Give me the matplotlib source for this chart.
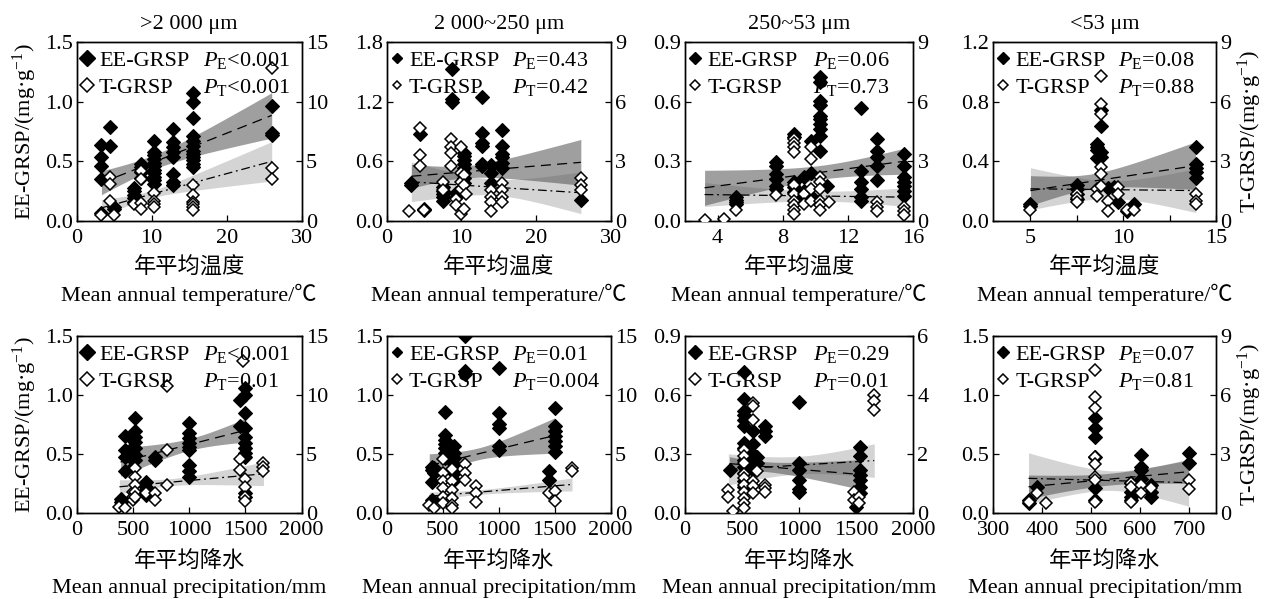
import numpy as np
import matplotlib
matplotlib.use("Agg")
import matplotlib.pyplot as plt
from matplotlib.lines import Line2D
from matplotlib.ticker import MultipleLocator

plt.rcParams['font.family'] = ['Liberation Serif', 'Noto Sans CJK SC']
plt.rcParams['mathtext.fontset'] = 'custom'
plt.rcParams['mathtext.rm'] = 'Liberation Serif'
plt.rcParams['mathtext.it'] = 'Liberation Serif:italic'
plt.rcParams['axes.unicode_minus'] = True

# ---------------- data (x group, values) ----------------
# Panel 1: >2000 um vs temperature
p1_ee_x = [3.3, 4.4, 5.0, 7.6, 8.6, 10.3, 12.8, 15.5, 26.0]
p1_ee_v = [[0.64, 0.54, 0.46, 0.35, 0.07], [0.79, 0.63], [0.12, 0.10],
           [0.28, 0.25, 0.22, 0.19, 0.16], [0.48, 0.45, 0.41, 0.36],
           [0.67, 0.58, 0.55, 0.52, 0.49, 0.46, 0.43, 0.40, 0.37, 0.34, 0.31],
           [0.77, 0.66, 0.62, 0.58, 0.54, 0.39, 0.33, 0.30],
           [1.07, 1.00, 0.86, 0.71, 0.67, 0.63, 0.59, 0.56, 0.54, 0.51, 0.48, 0.45],
           [0.96, 0.74, 0.72]]
p1_t_x = [3.3, 4.4, 5.0, 7.6, 8.6, 10.3, 15.5, 26.0]
p1_t_v = [[0.47], [3.7, 3.1, 1.65], [0.5], [1.45], [4.2, 3.55, 1.5, 1.0],
          [2.35, 1.7, 1.45, 1.2], [3.0, 2.2, 1.6, 1.4, 1.2, 0.95], [12.8, 4.47, 3.55]]

# Panel 2: 2000~250 um vs temperature
p2_ee_x = [3.3, 4.5, 5.0, 7.6, 8.7, 9.3, 10.3, 12.8, 14.0, 15.5, 26.0]
p2_ee_v = [[0.385, 0.36], [0.87], [0.125, 0.11], [0.34, 0.30, 0.27, 0.24, 0.20],
           [1.53, 1.23, 1.20], [0.28, 0.24],
           [0.68, 0.65, 0.61, 0.57, 0.53, 0.48, 0.43, 0.38],
           [1.25, 0.88, 0.78, 0.75, 0.57, 0.55], [0.56, 0.48, 0.38],
           [0.92, 0.75, 0.67, 0.64, 0.58, 0.53], [0.21]]
p2_t_x = [3.0, 4.5, 5.0, 7.6, 8.6, 9.3, 10.0, 10.3, 10.6, 14.0, 15.5, 26.0]
p2_t_v = [[0.5], [4.67, 3.3, 2.78], [0.57], [1.97, 1.55], [4.1, 3.74, 3.4, 2.78],
          [1.13, 0.79], [3.74, 2.43, 1.97, 1.63, 0.37], [2.3, 1.8, 0.62], [1.38],
          [1.55, 1.2, 0.96, 0.49], [1.89, 1.55, 1.2, 0.96], [2.14, 1.8, 1.55]]

# Panel 3: 250~53 um vs temperature
p3_ee_x = [5.1, 7.6, 8.7, 9.3, 9.7, 10.3, 10.7, 12.8, 13.8, 15.4]
p3_ee_v = [[0.12, 0.107, 0.095, 0.083], [0.295, 0.278, 0.237, 0.212, 0.178, 0.162],
           [0.437, 0.42, 0.195, 0.17, 0.145], [0.22, 0.153, 0.12], [0.403, 0.24, 0.128],
           [0.723, 0.70, 0.603, 0.583, 0.528, 0.512, 0.49, 0.462, 0.428, 0.353],
           [0.178], [0.57, 0.253, 0.195, 0.162, 0.12, 0.103],
           [0.412, 0.353, 0.323, 0.278, 0.207],
           [0.337, 0.278, 0.22, 0.195, 0.178, 0.153, 0.128]]
p3_t_x = [3.2, 4.4, 5.1, 7.6, 8.7, 9.3, 9.7, 10.3, 10.8, 13.8, 15.4]
p3_t_v = [[0.03], [0.1], [0.57], [1.32],
          [4.1, 3.9, 3.73, 3.45, 1.83, 1.37, 1.03, 0.78, 0.53, 0.37],
          [1.37, 0.87], [3.7, 3.12, 1.62, 1.03], [2.2, 1.95, 1.62, 1.03, 0.78, 0.53],
          [0.95], [0.95, 0.7, 0.5], [0.7, 0.48, 0.28]]

# Panel 4: <53 um vs temperature
p4_ee_x = [5.0, 7.5, 8.6, 8.8, 9.2, 9.5, 9.7, 10.2, 10.6, 13.9]
p4_ee_v = [[0.116, 0.098], [0.238, 0.216, 0.182, 0.149], [0.516, 0.493, 0.476, 0.42],
           [0.742, 0.638, 0.46, 0.431], [0.222], [0.227], [0.127], [0.067], [0.116],
           [0.498, 0.382, 0.356, 0.327, 0.289]]
p4_t_x = [5.0, 7.5, 8.6, 8.8, 9.2, 9.7, 10.2, 10.6, 13.9]
p4_t_v = [[0.57], [1.37, 1.17, 0.95], [1.62, 1.28], [7.28, 5.9, 5.37, 2.7, 2.37, 1.78],
          [1.03, 0.5], [1.7, 1.37], [0.53], [0.57], [1.37, 1.03, 0.83]]

# Panel 5: >2000 um vs precipitation
p5_ee_x = [390, 430, 500, 520, 620, 700, 1000, 1450, 1500]
p5_ee_v = [[0.113, 0.093], [0.65, 0.53, 0.475, 0.35], [0.617, 0.56, 0.504, 0.447, 0.39],
           [0.80, 0.69, 0.645, 0.60, 0.546, 0.49, 0.447], [0.263, 0.22, 0.19, 0.15],
           [0.475, 0.447], [0.76, 0.675, 0.63, 0.59, 0.56, 0.53, 0.405, 0.35, 0.306],
           [0.957, 0.736],
           [1.056, 1.0, 0.843, 0.716, 0.645, 0.59, 0.546, 0.504, 0.475, 0.164, 0.136]]
p5_t_x = [380, 430, 500, 520, 620, 700, 800, 1450, 1480, 1500, 1660]
p5_t_v = [[0.5], [0.37], [1.78, 1.36, 1.08], [3.76, 3.06, 2.35, 1.78, 1.36], [1.64],
          [1.64, 1.08], [10.76, 5.32, 2.35], [4.53, 3.62], [12.9], [2.9, 2.2, 1.36, 1.0],
          [4.19, 3.9, 3.5]]

# Panel 6: 2000~250 um vs precipitation
p6_ee_x = [400, 420, 520, 600, 700, 1000, 1450, 1500]
p6_ee_v = [[0.39, 0.365, 0.257, 0.108], [0.38, 0.336],
           [0.855, 0.656, 0.62, 0.587, 0.55, 0.507, 0.465],
           [0.565, 0.507, 0.465, 0.41, 0.336, 0.28], [1.5, 1.207, 1.18],
           [1.23, 0.85, 0.75, 0.72, 0.565, 0.536], [0.35, 0.28],
           [0.89, 0.736, 0.693, 0.65, 0.607, 0.565, 0.513]]
p6_t_x = [380, 420, 500, 580, 700, 800, 1450, 1500, 1655]
p6_t_v = [[0.66], [0.37], [4.56, 3.36, 2.65, 2.08, 1.37, 0.86],
          [3.7, 2.65, 1.94, 1.23, 0.66, 0.37], [4.1, 3.36, 2.8], [2.28, 1.71, 0.94],
          [1.65], [1.88, 1.03], [3.79, 3.51]]

# Panel 7: 250~53 um vs precipitation
p7_ee_x = [390, 520, 600, 635, 700, 1000, 1500, 1530]
p7_ee_v = [[0.215],
           [0.716, 0.58, 0.516, 0.50, 0.474, 0.44, 0.355, 0.33, 0.27, 0.235, 0.2, 0.159, 0.133],
           [0.414, 0.35, 0.30, 0.278, 0.244, 0.215], [0.286, 0.252], [0.44, 0.414, 0.389],
           [0.563, 0.252, 0.218, 0.167, 0.119, 0.107], [0.031],
           [0.337, 0.29, 0.218, 0.193, 0.167, 0.133, 0.099]]
p7_t_x = [380, 423, 520, 595, 630, 700, 1480, 1527, 1658]
p7_t_v = [[0.77, 0.55], [0.07], [2.14, 1.91, 1.68, 1.33, 1.17, 0.94, 0.71, 0.49, 0.32, 0.15],
          [3.73, 3.61, 3.16, 1.06, 0.89, 0.66], [1.4], [0.94, 0.83, 0.71], [0.71, 0.43],
          [0.55, 0.32], [4.0, 3.79, 3.5]]

# Panel 8: <53 um vs precipitation
p8_ee_x = [372, 389, 507, 582, 601, 623, 699]
p8_ee_v = [[0.108, 0.085], [0.22], [0.807, 0.72, 0.645, 0.475, 0.207, 0.108],
           [0.25, 0.178, 0.136, 0.108], [0.49, 0.39, 0.362, 0.29], [0.235, 0.178, 0.136],
           [0.504, 0.419]]
p8_t_x = [372, 389, 408, 507, 582, 601, 623, 699]
p8_t_v = [[0.56], [0.98], [0.51], [7.27, 5.9, 5.35, 2.85, 2.5, 1.84, 1.66, 0.56],
          [1.5, 1.32, 0.56], [1.41, 0.98], [1.24], [1.66, 1.19]]

# fitted lines: [x_start, x_end, y_start, y_end, half_start, half_min, half_end]
p1_ee_fit = [3.3, 26.0, 0.32, 0.885, 0.10, 0.06, 0.19]
p1_t_fit = [3.3, 26.0, 1.1, 5.0, 0.7, 0.3, 1.65]
p2_ee_fit = [3.3, 26.0, 0.45, 0.59, 0.12, 0.06, 0.23]
p2_t_fit = [3.3, 26.0, 1.97, 1.42, 1.0, 0.4, 1.05]
p3_ee_fit = [3.2, 15.4, 0.167, 0.30, 0.088, 0.035, 0.065]
p3_t_fit = [3.2, 15.4, 1.33, 1.2, 0.6, 0.25, 0.46]
p4_ee_fit = [5.0, 13.9, 0.204, 0.371, 0.10, 0.05, 0.16]
p4_t_fit = [5.0, 13.9, 1.62, 1.53, 1.06, 0.45, 1.1]
p5_ee_fit = [390, 1500, 0.43, 0.70, 0.12, 0.05, 0.10]
p5_t_fit = [380, 1660, 2.2, 3.3, 0.6, 0.3, 1.0]
p6_ee_fit = [380, 1500, 0.40, 0.655, 0.10, 0.05, 0.15]
p6_t_fit = [380, 1655, 1.4, 2.4, 0.35, 0.2, 0.55]
p7_ee_fit = [390, 1530, 0.25, 0.195, 0.035, 0.025, 0.075]
p7_t_fit = [380, 1658, 1.47, 1.77, 0.53, 0.3, 0.57]
p8_ee_fit = [372, 699, 0.22, 0.348, 0.10, 0.05, 0.10]
p8_t_fit = [372, 699, 1.75, 1.53, 1.3, 0.5, 1.2]

titles = [">2 000 μm", "2 000~250 μm", "250~53 μm", "<53 μm"]
p_texts = [("<0.001", "<0.001"), ("=0.43", "=0.42"), ("=0.06", "=0.73"), ("=0.08", "=0.88"),
           ("<0.001", "=0.01"), ("=0.01", "=0.004"), ("=0.29", "=0.01"), ("=0.07", "=0.81")]
xlabel_temp = "年平均温度\nMean annual temperature/℃"
xlabel_prec = "年平均降水\nMean annual precipitation/mm"
ylabel_left = "EE-GRSP/(mg·g$^{-1}$)"
ylabel_right = "T-GRSP/(mg·g$^{-1}$)"

panels = [
    dict(ee=(p1_ee_x, p1_ee_v), t=(p1_t_x, p1_t_v), fe=p1_ee_fit, ft=p1_t_fit,
         xlim=(0, 30), xt=[0, 10, 20, 30], yl=(0, 1.5), yt=[0, 0.5, 1.0, 1.5], yfmt="%.1f",
         y2=(0, 15), y2t=[0, 5, 10, 15], lms=7.8),
    dict(ee=(p2_ee_x, p2_ee_v), t=(p2_t_x, p2_t_v), fe=p2_ee_fit, ft=p2_t_fit,
         xlim=(0, 30), xt=[0, 10, 20, 30], yl=(0, 1.8), yt=[0, 0.6, 1.2, 1.8], yfmt="%.1f",
         y2=(0, 9), y2t=[0, 3, 6, 9], lms=5.2),
    dict(ee=(p3_ee_x, p3_ee_v), t=(p3_t_x, p3_t_v), fe=p3_ee_fit, ft=p3_t_fit,
         xlim=(2, 16), xt=[4, 8, 12, 16], yl=(0, 0.9), yt=[0, 0.3, 0.6, 0.9], yfmt="%.1f",
         y2=(0, 9), y2t=[0, 3, 6, 9], lms=6.3),
    dict(ee=(p4_ee_x, p4_ee_v), t=(p4_t_x, p4_t_v), fe=p4_ee_fit, ft=p4_t_fit,
         xlim=(3, 15), xt=[5, 10, 15], xminor=2.5, yl=(0, 1.2), yt=[0, 0.4, 0.8, 1.2], yfmt="%.1f",
         y2=(0, 9), y2t=[0, 3, 6, 9], lms=5.8),
    dict(ee=(p5_ee_x, p5_ee_v), t=(p5_t_x, p5_t_v), fe=p5_ee_fit, ft=p5_t_fit,
         xlim=(0, 2000), xt=[0, 500, 1000, 1500, 2000], yl=(0, 1.5), yt=[0, 0.5, 1.0, 1.5], yfmt="%.1f",
         y2=(0, 15), y2t=[0, 5, 10, 15], lms=8.5),
    dict(ee=(p6_ee_x, p6_ee_v), t=(p6_t_x, p6_t_v), fe=p6_ee_fit, ft=p6_t_fit,
         xlim=(0, 2000), xt=[0, 500, 1000, 1500, 2000], yl=(0, 1.5), yt=[0, 0.5, 1.0, 1.5], yfmt="%.1f",
         y2=(0, 15), y2t=[0, 5, 10, 15], lms=5.5),
    dict(ee=(p7_ee_x, p7_ee_v), t=(p7_t_x, p7_t_v), fe=p7_ee_fit, ft=p7_t_fit,
         xlim=(0, 2000), xt=[0, 500, 1000, 1500, 2000], yl=(0, 0.9), yt=[0, 0.3, 0.6, 0.9], yfmt="%.1f",
         y2=(0, 6), y2t=[0, 2, 4, 6], lms=7),
    dict(ee=(p8_ee_x, p8_ee_v), t=(p8_t_x, p8_t_v), fe=p8_ee_fit, ft=p8_t_fit,
         xlim=(300, 755), xt=[300, 400, 500, 600, 700], yl=(0, 1.5), yt=[0, 0.5, 1.0, 1.5], yfmt="%.1f",
         y2=(0, 9), y2t=[0, 3, 6, 9], lms=6.3),
]

W, H = 1266, 599
col_px = [(76.7, 301.7), (386.7, 610.7), (685.0, 913.3), (993.3, 1216.0)]
row_px = [(42.0, 221.0), (336.0, 512.7)]

FS = 16
fig = plt.figure(figsize=(W / 100, H / 100), dpi=100)


def expand(xs, vs):
    xx, yy = [], []
    for x, v in zip(xs, vs):
        for val in v:
            xx.append(x)
            yy.append(val)
    return np.array(xx), np.array(yy)


def band(fit):
    xs, xe, ys, ye, h0, hm, h1 = fit
    r = np.sqrt((h0 ** 2 - hm ** 2) / (h1 ** 2 - hm ** 2))
    xc = (xs + r * xe) / (1 + r)
    k = np.sqrt(h1 ** 2 - hm ** 2) / (xe - xc)
    x = np.linspace(xs, xe, 100)
    y = ys + (ye - ys) * (x - xs) / (xe - xs)
    h = np.sqrt(hm ** 2 + (k * (x - xc)) ** 2)
    return x, y, y - h, y + h


for i, p in enumerate(panels):
    r, c = divmod(i, 4)
    x0, x1 = col_px[c]
    yt_, yb_ = row_px[r]
    ax = fig.add_axes([x0 / W, 1 - yb_ / H, (x1 - x0) / W, (yb_ - yt_) / H])
    ax2 = ax.twinx()
    ax.set_xlim(*p['xlim'])
    ax.set_ylim(*p['yl'])
    ax2.set_ylim(*p['y2'])
    ax2.set_zorder(ax.get_zorder() - 1)
    ax.patch.set_visible(False)

    # bands (drawn on the same axes, T band in T-scale via ax2 transform)
    bx, by, blo, bhi = band(p['ft'])
    ax.fill_between(bx, blo, bhi, color='#c4c4c4', alpha=0.72, lw=0, zorder=1,
                    transform=ax2.transData)
    ex, ey, elo, ehi = band(p['fe'])
    ax.fill_between(ex, elo, ehi, color='#555555', alpha=0.56, lw=0, zorder=1.2)
    ax.plot(bx, by, color='black', lw=0.9, ls=(0, (7, 3, 1.5, 3)), zorder=2,
            transform=ax2.transData)
    ax.plot(ex, ey, color='black', lw=0.9, ls=(0, (8, 5)), zorder=2)

    xe_, ye_ = expand(*p['ee'])
    ax.plot(xe_, ye_, ls='none', marker='D', ms=6.8, mfc='black', mec='black', mew=0.8, zorder=3)
    xt_, yt2 = expand(*p['t'])
    ax.plot(xt_, yt2, ls='none', marker='D', ms=6.3, mfc='white', mec='black', mew=1.1, zorder=4,
            transform=ax2.transData)

    ax.set_xticks(p['xt'])
    if 'xminor' in p:
        ax.xaxis.set_minor_locator(MultipleLocator(p['xminor']))
    ax.set_yticks(p['yt'])
    ax.set_yticklabels([p['yfmt'] % v for v in p['yt']])
    ax2.set_yticks(p['y2t'])
    ax2.set_yticklabels([str(v) for v in p['y2t']])
    for a in (ax, ax2):
        a.tick_params(direction='in', length=4, width=0.9, labelsize=FS, pad=3)
        a.tick_params(which='minor', direction='in', length=4, width=0.9)
        for s in a.spines.values():
            s.set_linewidth(1.0)
    ax.tick_params(axis='x', pad=6)

    # legend
    lms = p['lms']
    hnd = [Line2D([], [], ls='none', marker='D', ms=lms, mfc='black', mec='black'),
           Line2D([], [], ls='none', marker='D', ms=lms * 0.85, mfc='white', mec='black', mew=1.1)]
    ax.legend(hnd, ['EE-GRSP', 'T-GRSP'], loc='upper left', bbox_to_anchor=(0.0, 0.97),
              frameon=False, fontsize=FS, handlelength=0.6, handletextpad=0.25,
              labelspacing=0.29, borderaxespad=0.1, borderpad=0.05)
    pe, pt = p_texts[i]
    ax.text(0.56, 0.895, r"$P_{\mathrm{E}}$" + pe, transform=ax.transAxes, fontsize=FS,
            va='center', ha='left', zorder=6)
    ax.text(0.56, 0.745, r"$P_{\mathrm{T}}$" + pt, transform=ax.transAxes, fontsize=FS,
            va='center', ha='left', zorder=6)

    if r == 0:
        ax.set_title(titles[c], fontsize=FS, pad=9)
        ax.set_xlabel(xlabel_temp, fontsize=FS, linespacing=1.25, labelpad=7)
    else:
        ax.set_xlabel(xlabel_prec, fontsize=FS, linespacing=1.5, labelpad=8)
    if c == 0:
        ax.set_ylabel(ylabel_left, fontsize=FS, labelpad=4)
    if c == 3:
        ax2.set_ylabel(ylabel_right, fontsize=FS, labelpad=3)

fig.savefig("out.png", dpi=100)
